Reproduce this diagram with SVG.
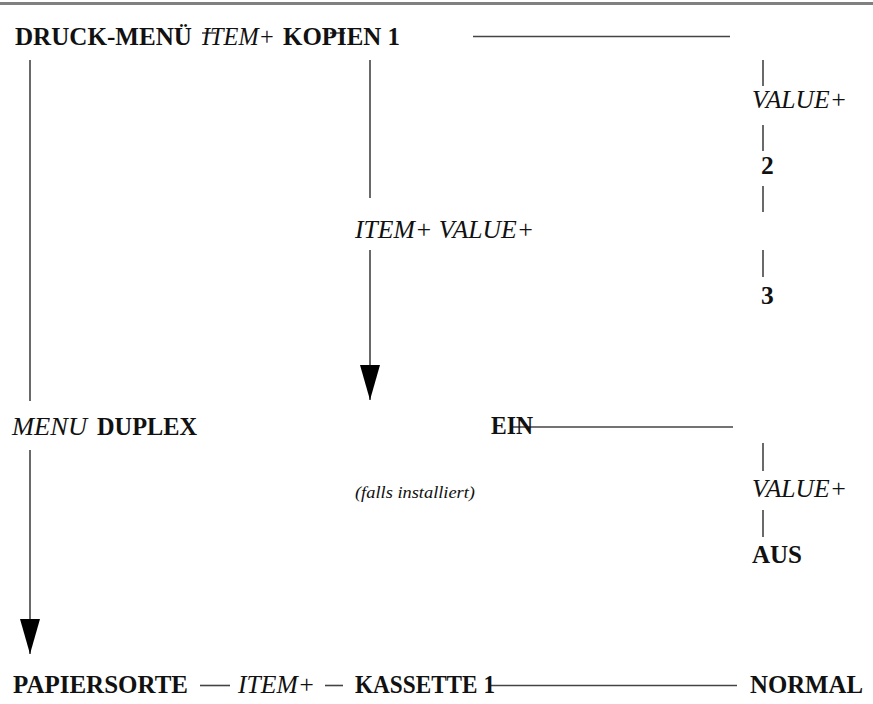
<svg xmlns="http://www.w3.org/2000/svg" width="873" height="704" viewBox="0 0 873 704">
<defs>
<style>
text{font-family:"Liberation Serif","Times New Roman",serif;fill:#111;font-size:25.5px}
.b{font-weight:bold}
.i{font-style:italic}
.s{font-size:17px}
.ln{stroke:#444;stroke-width:1.6;fill:none}
.st{stroke:#333;stroke-width:1.4}
</style>
<marker id="ah" viewBox="-36 -11 37 22" refX="0" refY="0" markerWidth="37" markerHeight="22" markerUnits="userSpaceOnUse" orient="auto">
<path d="M-35,-10 L0,0 L-35,10 Z" fill="#000"/>
</marker>
</defs>
<rect width="873" height="704" fill="#fff"/>
<rect x="0" y="2" width="873" height="3" fill="#808080"/>

<g id="connectors">
<line class="ln" x1="473" y1="36.5" x2="730" y2="36.5"/>
<line class="ln" x1="30" y1="60" x2="30" y2="401"/>
<line class="ln" x1="30" y1="450" x2="30" y2="654" marker-end="url(#ah)"/>
<line class="ln" x1="370" y1="60" x2="370" y2="198"/>
<line class="ln" x1="370" y1="250" x2="370" y2="400" marker-end="url(#ah)"/>
<line class="ln" x1="763" y1="60" x2="763" y2="86"/>
<line class="ln" x1="763" y1="125" x2="763" y2="151"/>
<line class="ln" x1="763" y1="186" x2="763" y2="212"/>
<line class="ln" x1="763" y1="250" x2="763" y2="277"/>
<line class="ln" x1="513" y1="427" x2="733" y2="427"/>
<line class="ln" x1="763" y1="443" x2="763" y2="471"/>
<line class="ln" x1="763" y1="510" x2="763" y2="537"/>
<line class="ln" x1="200" y1="685.5" x2="230" y2="685.5"/>
<line class="ln" x1="325" y1="685.5" x2="343" y2="685.5"/>
<line class="ln" x1="489" y1="685.5" x2="737" y2="685.5"/>
<line class="st" x1="202" y1="33" x2="216" y2="33"/>
<line class="st" x1="330" y1="33" x2="345" y2="33"/>
</g>

<g id="druck-menu">
<text class="b" x="15" y="45" textLength="177" lengthAdjust="spacingAndGlyphs">DRUCK-MENÜ</text>
</g>
<g id="item1">
<text class="i" x="202" y="45" textLength="73" lengthAdjust="spacingAndGlyphs">ITEM+</text>
</g>
<g id="kopien">
<text class="b" x="283" y="45" textLength="117" lengthAdjust="spacingAndGlyphs">KOPIEN 1</text>
</g>
<g id="value-top">
<text class="i" x="752" y="108" textLength="95" lengthAdjust="spacingAndGlyphs">VALUE+</text>
</g>
<g id="v2">
<text class="b" x="761" y="174">2</text>
</g>
<g id="v3">
<text class="b" x="761" y="304">3</text>
</g>
<g id="item-value">
<text class="i" x="355" y="238" textLength="179" lengthAdjust="spacingAndGlyphs">ITEM+ VALUE+</text>
</g>
<g id="menu-duplex">
<text class="i" x="12" y="435" textLength="75" lengthAdjust="spacingAndGlyphs">MENU</text>
<text class="b" x="97" y="435" textLength="100" lengthAdjust="spacingAndGlyphs">DUPLEX</text>
</g>
<g id="ein">
<text class="b" x="491" y="434" textLength="42" lengthAdjust="spacingAndGlyphs">EIN</text>
</g>
<g id="falls">
<text class="i s" x="355" y="498" textLength="120" lengthAdjust="spacingAndGlyphs">(falls installiert)</text>
</g>
<g id="value-duplex">
<text class="i" x="752" y="497" textLength="95" lengthAdjust="spacingAndGlyphs">VALUE+</text>
</g>
<g id="aus">
<text class="b" x="752" y="563" textLength="50" lengthAdjust="spacingAndGlyphs">AUS</text>
</g>
<g id="papiersorte">
<text class="b" x="13" y="693" textLength="175" lengthAdjust="spacingAndGlyphs">PAPIERSORTE</text>
</g>
<g id="item2">
<text class="i" x="238" y="693" textLength="77" lengthAdjust="spacingAndGlyphs">ITEM+</text>
</g>
<g id="kassette">
<text class="b" x="355" y="693" textLength="140" lengthAdjust="spacingAndGlyphs">KASSETTE 1</text>
</g>
<g id="normal">
<text class="b" x="750" y="693" textLength="113" lengthAdjust="spacingAndGlyphs">NORMAL</text>
</g>
</svg>
